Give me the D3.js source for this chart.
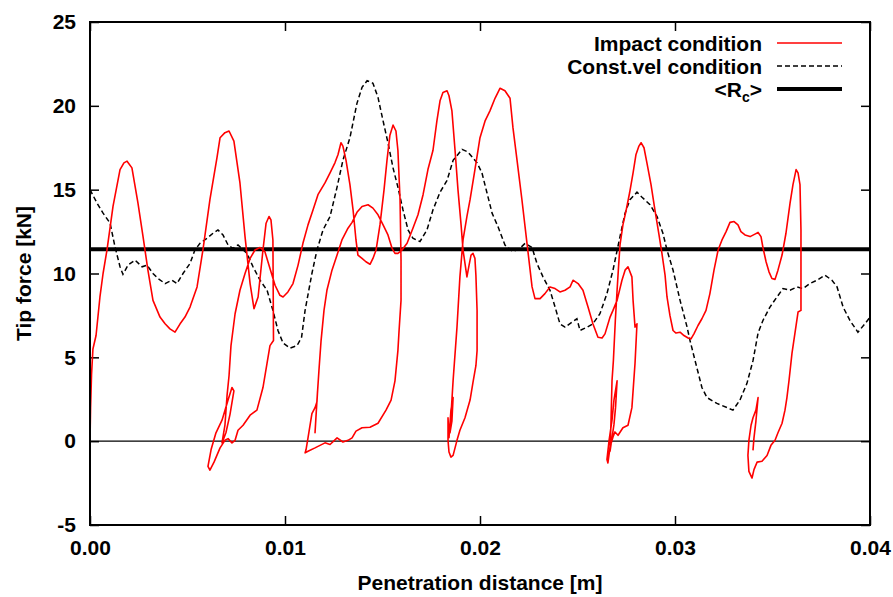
<!DOCTYPE html>
<html>
<head>
<meta charset="utf-8">
<script src="https://cdn.jsdelivr.net/npm/d3@7"></script>
<style>
  body { margin: 0; background: #fff; }
  svg text { font-family: "Liberation Sans", Arial, sans-serif; font-weight: bold; fill: #000; }
</style>
</head>
<body>
<div id="chart"></div>
<script>
// axis ticks
const xTicks = [0, 0.01, 0.02, 0.03, 0.04];
const xTickLabels = ["0.00", "0.01", "0.02", "0.03", "0.04"];
const yTicks = [-5, 0, 5, 10, 15, 20, 25];
const yTickLabels = ["-5", "0", "5", "10", "15", "20", "25"];

const legendLabels = ["Impact condition", "Const.vel condition", "<Rc>"];

// mean resistance <Rc> [kN]
const rcValue = 11.45;

// impact condition: penetration [m], tip force [kN], one array per blow
const blow1 = [[0,0],[0.00003,2.0],[0.00008,4.0],[0.00015,5.5],[0.00031,6.3],[0.00051,8.6],[0.00067,10.0],[0.00087,11.4],[0.00118,14.0],[0.00154,16.2],[0.00174,16.6],[0.0019,16.7],[0.00215,16.3],[0.00246,14.2],[0.00272,12.2],[0.00297,10.2],[0.00323,8.4],[0.00359,7.4],[0.00385,7.0],[0.0041,6.7],[0.00436,6.5],[0.00462,7.0],[0.00487,7.4],[0.00513,8.0],[0.00549,9.2],[0.00579,11.4],[0.00615,14.4],[0.00651,16.9],[0.00667,18.1],[0.00692,18.4],[0.00713,18.5],[0.00738,17.9],[0.00769,15.4],[0.00795,12.2],[0.00821,9.4],[0.00841,7.9],[0.00862,8.6],[0.00887,11.4],[0.00903,13.0],[0.00918,13.4],[0.00928,13.2],[0.00938,12.0],[0.00941,6.0],[0.00923,5.7],[0.00908,4.65],[0.00887,3.2],[0.00856,1.85],[0.00821,1.55],[0.00785,0.95],[0.00759,0.65],[0.00744,0.05],[0.00728,-0.1],[0.00708,0.15],[0.00692,0.05],[0.00667,-0.4],[0.00636,-1.25],[0.00615,-1.73],[0.00605,-1.5],[0.00621,-0.5],[0.00646,0.5],[0.00677,1.25],[0.00708,2.45],[0.00728,3.2],[0.00738,3.0],[0.00718,1.6],[0.00697,0.5],[0.00677,-0.1]];
const blow2 = [[0.00677,-0.1],[0.00692,0.95],[0.00703,2.75],[0.00713,3.9],[0.00723,5.7],[0.00744,7.6],[0.00769,9.0],[0.00795,10.0],[0.00821,10.9],[0.00846,11.4],[0.00872,11.55],[0.00897,11.3],[0.00923,10.3],[0.00949,9.3],[0.00974,8.7],[0.0099,8.6],[0.01015,8.9],[0.01041,9.4],[0.01067,10.5],[0.01092,11.8],[0.01118,12.9],[0.01144,13.8],[0.01169,14.7],[0.01205,15.4],[0.01231,16.0],[0.01256,16.6],[0.01272,17.1],[0.01287,17.8],[0.01297,17.6],[0.01313,16.75],[0.01333,15.3],[0.01349,13.8],[0.01364,12.0],[0.01374,11.1],[0.01395,10.9],[0.01415,10.7],[0.01436,10.55],[0.01451,10.9],[0.01467,11.4],[0.01487,12.9],[0.01508,15.0],[0.01523,16.75],[0.01538,18.25],[0.01554,18.85],[0.01569,18.5],[0.01579,17.35],[0.0159,14.4],[0.01595,10.8],[0.01595,8.4],[0.01585,6.6],[0.01579,5.4],[0.01564,3.6],[0.01544,2.45],[0.01518,1.85],[0.01477,1.07],[0.01436,0.83],[0.01395,0.8],[0.01364,0.6],[0.01344,0.2],[0.01323,0.05],[0.01297,-0.05],[0.01267,0.2],[0.01231,-0.2],[0.01205,-0.1],[0.01154,-0.4],[0.01118,-0.6],[0.01103,-0.7],[0.01108,-0.5],[0.01118,0.2],[0.01138,1.65],[0.01154,2.0],[0.01164,2.35],[0.01167,3.0],[0.01159,1.5],[0.01154,0.5]];
const blow3 = [[0.01154,0.5],[0.01164,2.45],[0.01174,4.2],[0.01185,6.0],[0.012,7.8],[0.01215,9.0],[0.01241,10.2],[0.01267,11.1],[0.01292,12.0],[0.01323,12.7],[0.01344,13.05],[0.01369,13.65],[0.01395,14.0],[0.01426,14.1],[0.01451,13.9],[0.01477,13.5],[0.01503,12.9],[0.01528,12.3],[0.01549,11.5],[0.01564,11.2],[0.01579,11.2],[0.016,11.4],[0.01626,11.8],[0.01656,12.7],[0.01682,13.5],[0.01708,14.7],[0.01733,16.2],[0.01759,17.35],[0.01779,19.1],[0.01795,20.3],[0.0181,20.8],[0.01831,20.9],[0.01841,20.6],[0.01856,19.7],[0.01872,17.35],[0.01887,15.0],[0.01903,12.9],[0.01913,11.4],[0.01928,10.2],[0.01933,9.8],[0.01944,10.5],[0.01954,11.1],[0.01964,11.2],[0.01974,10.9],[0.01979,9.9],[0.01985,7.8],[0.01985,5.4],[0.01979,4.5],[0.01964,3.5],[0.01949,2.45],[0.01923,1.4],[0.01897,0.65],[0.01882,0.05],[0.01872,-0.4],[0.01862,-0.85],[0.01851,-0.95],[0.01841,-0.65],[0.01836,0.05],[0.01836,1.4],[0.01841,0.2],[0.01851,1.85],[0.01862,2.6],[0.01856,1.2],[0.01846,0.5]];
const blow4 = [[0.01846,0.5],[0.01851,1.5],[0.01862,3.6],[0.01882,6.8],[0.01897,9.8],[0.01913,12.0],[0.01933,13.4],[0.01949,14.4],[0.01974,16.2],[0.02,18.1],[0.02026,19.1],[0.02051,19.7],[0.02077,20.45],[0.02103,21.05],[0.02128,20.9],[0.02154,20.45],[0.02169,18.7],[0.0219,16.75],[0.02215,14.4],[0.02241,11.8],[0.02267,9.2],[0.02282,8.5],[0.02308,8.5],[0.02333,8.8],[0.02359,9.2],[0.02385,9.1],[0.0241,8.9],[0.02436,9.0],[0.02462,9.2],[0.02477,9.6],[0.02503,9.4],[0.02528,9.0],[0.02554,8.0],[0.02579,7.0],[0.02605,6.2],[0.02626,6.15],[0.02641,6.4],[0.02667,7.4],[0.02682,7.8],[0.02703,8.4],[0.02728,9.6],[0.02744,10.2],[0.02759,10.4],[0.02779,9.8],[0.02785,8.4],[0.02795,6.8],[0.02805,7.0],[0.02795,4.65],[0.02779,2.0],[0.02759,0.95],[0.02733,0.8],[0.02708,0.35],[0.02692,0.55],[0.02682,0.25],[0.02667,-0.35],[0.02656,-1.3],[0.02651,-1.1],[0.02662,0.05],[0.02677,1.25],[0.02687,2.45],[0.02703,3.6],[0.02695,2.0],[0.02687,1.0],[0.02682,0.6]];
const blow5 = [[0.02682,0.6],[0.02667,-0.6],[0.02672,1.25],[0.02677,3.6],[0.02684,4.8],[0.02694,7.2],[0.02703,9.0],[0.02711,10.5],[0.02718,11.7],[0.02733,12.9],[0.0275,13.8],[0.02767,14.8],[0.02785,16.0],[0.028,17.1],[0.02815,17.6],[0.02826,17.8],[0.02841,17.5],[0.02856,16.6],[0.02877,15.3],[0.02897,13.8],[0.02918,12.3],[0.02933,11.2],[0.02949,9.9],[0.02959,8.6],[0.02974,7.5],[0.0299,6.6],[0.03005,6.45],[0.03026,6.5],[0.03046,6.3],[0.03067,6.15],[0.03082,6.1],[0.03097,6.4],[0.03118,6.9],[0.03138,7.3],[0.03159,7.8],[0.03179,8.8],[0.032,10.2],[0.03221,11.4],[0.03241,12.0],[0.03262,12.5],[0.03282,13.05],[0.03303,13.1],[0.03323,12.9],[0.03338,12.5],[0.03359,12.3],[0.03385,12.2],[0.0341,12.35],[0.03426,12.45],[0.03441,12.2],[0.03451,11.55],[0.03467,10.7],[0.03482,10.1],[0.03497,9.7],[0.03513,9.65],[0.03528,10.2],[0.03549,11.1],[0.03569,12.4],[0.0359,14.2],[0.03605,15.3],[0.03621,16.2],[0.03631,16.0],[0.03641,15.3],[0.03646,12.6],[0.03646,9.6],[0.03646,7.8],[0.03631,7.7],[0.03621,6.9],[0.036,5.25],[0.03585,3.65],[0.03574,2.6],[0.03564,1.85],[0.03549,1.07],[0.03528,0.5],[0.03513,0.05],[0.03492,-0.25],[0.03472,-0.85],[0.03446,-1.2],[0.03421,-1.25],[0.03405,-1.7],[0.03395,-2.2],[0.03379,-1.8],[0.03374,-0.85],[0.03379,0.05],[0.0339,0.95],[0.034,1.4],[0.03415,1.85],[0.03426,2.6],[0.03415,1.2],[0.03405,0.2],[0.034,-0.55]];

// constant velocity condition: penetration [m], tip force [kN]
const constVel = [[0,15.0],[0.00036,14.2],[0.00067,13.6],[0.00103,13.0],[0.00128,11.6],[0.00154,10.4],[0.00169,9.95],[0.00195,10.5],[0.00231,10.8],[0.00267,10.4],[0.00292,10.5],[0.00323,10.0],[0.00349,9.7],[0.00385,9.4],[0.00421,9.6],[0.00446,9.4],[0.00477,10.0],[0.00513,10.6],[0.00538,11.4],[0.00564,11.8],[0.006,12.1],[0.00631,12.4],[0.00656,12.6],[0.00682,12.3],[0.00708,11.7],[0.00733,11.5],[0.00759,11.7],[0.00805,11.2],[0.00836,10.4],[0.00872,9.6],[0.00908,9.0],[0.00938,7.8],[0.00964,6.6],[0.0099,5.85],[0.01026,5.55],[0.01062,5.7],[0.01085,6.2],[0.01103,7.8],[0.01138,10.0],[0.01164,11.4],[0.01195,12.6],[0.01231,13.4],[0.01267,15.15],[0.01297,16.75],[0.01333,18.1],[0.01369,20.15],[0.01395,21.1],[0.01421,21.5],[0.01451,21.35],[0.01477,20.5],[0.01503,19.1],[0.01528,17.8],[0.01554,16.3],[0.01579,15.15],[0.01605,13.8],[0.01631,12.6],[0.01656,12.1],[0.01692,11.9],[0.01728,12.6],[0.01759,13.8],[0.01795,14.85],[0.01831,15.55],[0.01862,16.75],[0.01908,17.4],[0.01938,17.25],[0.01985,16.6],[0.0201,16.0],[0.02036,14.8],[0.02062,13.6],[0.02092,12.8],[0.02128,11.7],[0.02169,11.3],[0.02205,11.5],[0.02231,11.8],[0.02267,11.55],[0.02292,10.6],[0.02323,9.8],[0.02359,9.0],[0.02385,8.0],[0.0241,7.0],[0.02436,6.8],[0.02472,7.1],[0.02497,7.3],[0.02513,6.6],[0.02549,6.8],[0.02579,7.0],[0.02615,7.6],[0.02651,8.8],[0.02682,10.2],[0.02718,12.2],[0.02744,13.6],[0.02769,14.4],[0.02805,14.85],[0.02831,14.55],[0.02872,14.1],[0.02908,13.4],[0.02938,12.4],[0.02959,11.4],[0.0299,10.2],[0.03026,8.4],[0.03062,6.8],[0.03077,6.0],[0.03103,4.8],[0.03138,3.2],[0.03164,2.6],[0.03215,2.25],[0.03267,2.0],[0.03297,1.85],[0.03333,2.45],[0.03369,3.45],[0.034,4.8],[0.03426,6.45],[0.03451,7.2],[0.03487,8.0],[0.03523,8.6],[0.03554,9.1],[0.0359,9.0],[0.03626,9.2],[0.03656,9.1],[0.03692,9.4],[0.03728,9.6],[0.03769,9.9],[0.03805,9.6],[0.03831,9.2],[0.03862,8.0],[0.03897,7.2],[0.03938,6.5],[0.03974,7.0],[0.04,7.4]];

const width = 893, height = 597;
const margin = { top: 22, right: 23, bottom: 72, left: 90 };
const fontSize = 21;

const svg = d3.select("#chart").append("svg")
  .attr("width", width)
  .attr("height", height);

const x = d3.scaleLinear().domain([0, 0.04]).range([margin.left, width - margin.right]);
const y = d3.scaleLinear().domain([-5, 25]).range([height - margin.bottom, margin.top]);

const line = d3.line().x(d => x(d[0])).y(d => y(d[1]));

// zero line
svg.append("line")
  .attr("x1", x(0)).attr("x2", x(0.04))
  .attr("y1", y(0)).attr("y2", y(0))
  .attr("stroke", "#000").attr("stroke-width", 1.3);

// axes, ticks pointing inward
function styleAxis(g) {
  g.select(".domain").remove();
  g.selectAll(".tick line").attr("stroke", "#000").attr("stroke-width", 1.5);
  g.selectAll(".tick text").attr("font-size", fontSize).attr("font-family", null);
}

svg.append("g")
  .attr("transform", `translate(${margin.left},0)`)
  .call(d3.axisLeft(y).tickValues(yTicks).tickFormat((d, i) => yTickLabels[i]).tickSizeInner(-9).tickSizeOuter(0).tickPadding(14))
  .call(styleAxis);

svg.append("g")
  .attr("transform", `translate(${width - margin.right},0)`)
  .call(d3.axisRight(y).tickValues(yTicks).tickFormat("").tickSizeInner(-9).tickSizeOuter(0))
  .call(styleAxis);

svg.append("g")
  .attr("transform", `translate(0,${height - margin.bottom})`)
  .call(d3.axisBottom(x).tickValues(xTicks).tickFormat((d, i) => xTickLabels[i]).tickSizeInner(-9).tickSizeOuter(0).tickPadding(15))
  .call(styleAxis);

svg.append("g")
  .attr("transform", `translate(0,${margin.top})`)
  .call(d3.axisTop(x).tickValues(xTicks).tickFormat("").tickSizeInner(-9).tickSizeOuter(0))
  .call(styleAxis);

// <Rc>
svg.append("line")
  .attr("x1", x(0)).attr("x2", x(0.04))
  .attr("y1", y(rcValue)).attr("y2", y(rcValue))
  .attr("stroke", "#000").attr("stroke-width", 4);

// const vel
svg.append("path")
  .datum(constVel)
  .attr("fill", "none")
  .attr("stroke", "#000")
  .attr("stroke-width", 1.5)
  .attr("stroke-dasharray", "5,3")
  .attr("d", line);

// impact
const impact = [].concat(blow1, blow2, blow3, blow4, blow5);
svg.append("path")
  .datum(impact)
  .attr("fill", "none")
  .attr("stroke", "#ff0000")
  .attr("stroke-width", 1.6)
  .attr("stroke-linejoin", "round")
  .attr("d", line);

// frame
svg.append("rect")
  .attr("x", margin.left).attr("y", margin.top)
  .attr("width", width - margin.left - margin.right)
  .attr("height", height - margin.top - margin.bottom)
  .attr("fill", "none").attr("stroke", "#000").attr("stroke-width", 2);

// axis titles
svg.append("text")
  .attr("x", (margin.left + width - margin.right) / 2)
  .attr("y", 590)
  .attr("text-anchor", "middle")
  .attr("font-size", fontSize)
  .text("Penetration distance [m]");

svg.append("text")
  .attr("transform", `translate(31,${(margin.top + height - margin.bottom) / 2}) rotate(-90)`)
  .attr("text-anchor", "middle")
  .attr("font-size", fontSize)
  .text("Tip force [kN]");

// legend
const legendY = [43, 66, 89];
const legendStyles = [
  { stroke: "#ff0000", width: 1.6, dash: null },
  { stroke: "#000", width: 1.5, dash: "5,3" },
  { stroke: "#000", width: 4, dash: null }
];
const legend = svg.append("g");
legendLabels.forEach((label, i) => {
  const t = legend.append("text")
    .attr("x", 762)
    .attr("y", legendY[i])
    .attr("dy", "0.36em")
    .attr("text-anchor", "end")
    .attr("font-size", fontSize);
  if (label === "<Rc>") {
    t.append("tspan").text("<R");
    t.append("tspan").attr("font-size", 14).attr("dy", 5).text("c");
    t.append("tspan").attr("dy", -5).text(">");
  } else {
    t.text(label);
  }
  legend.append("line")
    .attr("x1", 777).attr("x2", 842)
    .attr("y1", legendY[i]).attr("y2", legendY[i])
    .attr("stroke", legendStyles[i].stroke)
    .attr("stroke-width", legendStyles[i].width)
    .attr("stroke-dasharray", legendStyles[i].dash);
});
</script>
</body>
</html>
